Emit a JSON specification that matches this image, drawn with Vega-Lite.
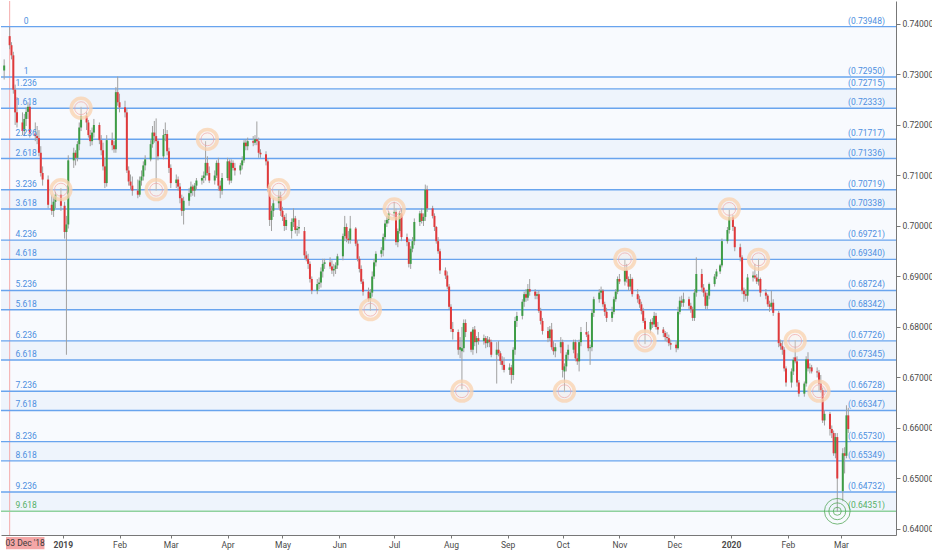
{
  "$schema": "https://vega.github.io/schema/vega-lite/v6.json",
  "width": 895,
  "height": 534,
  "padding": 0,
  "background": "white",
  "config": {
    "view": {"stroke": null},
    "font": "Roboto",
    "axis": {"labelFont": "Roboto", "labelFontSize": 8.5, "labelColor": "#4a4a4a", "domainColor": "#777777", "tickColor": "#777777", "grid": false, "title": null}
  },
  "datasets": {
    "levels": [
      {"lvl": "0", "p": 0.73948}, {"lvl": "1", "p": 0.7295}, {"lvl": "1.236", "p": 0.72715}, {"lvl": "1.618", "p": 0.72333},
      {"lvl": "2.236", "p": 0.71717}, {"lvl": "2.618", "p": 0.71336}, {"lvl": "3.236", "p": 0.70719}, {"lvl": "3.618", "p": 0.70338},
      {"lvl": "4.236", "p": 0.69721}, {"lvl": "4.618", "p": 0.6934}, {"lvl": "5.236", "p": 0.68724}, {"lvl": "5.618", "p": 0.68342},
      {"lvl": "6.236", "p": 0.67726}, {"lvl": "6.618", "p": 0.67345}, {"lvl": "7.236", "p": 0.66728}, {"lvl": "7.618", "p": 0.66347},
      {"lvl": "8.236", "p": 0.6573}, {"lvl": "8.618", "p": 0.65349}, {"lvl": "9.236", "p": 0.64732}, {"lvl": "9.618", "p": 0.64351}
    ],
    "bands": [
      {"y1": 0.73948, "y2": 0.7295, "k": "a"}, {"y1": 0.7295, "y2": 0.72715, "k": "a"}, {"y1": 0.72715, "y2": 0.72333, "k": "t"},
      {"y1": 0.72333, "y2": 0.71717, "k": "a"}, {"y1": 0.71717, "y2": 0.71336, "k": "t"}, {"y1": 0.71336, "y2": 0.70719, "k": "a"},
      {"y1": 0.70719, "y2": 0.70338, "k": "t"}, {"y1": 0.70338, "y2": 0.69721, "k": "a"}, {"y1": 0.69721, "y2": 0.6934, "k": "t"},
      {"y1": 0.6934, "y2": 0.68724, "k": "a"}, {"y1": 0.68724, "y2": 0.68342, "k": "t"}, {"y1": 0.68342, "y2": 0.67726, "k": "a"},
      {"y1": 0.67726, "y2": 0.67345, "k": "t"}, {"y1": 0.67345, "y2": 0.66728, "k": "a"}, {"y1": 0.66728, "y2": 0.66347, "k": "t"},
      {"y1": 0.66347, "y2": 0.6573, "k": "a"}, {"y1": 0.6573, "y2": 0.65349, "k": "t"}, {"y1": 0.65349, "y2": 0.64732, "k": "a"},
      {"y1": 0.64732, "y2": 0.64351, "k": "t"}, {"y1": 0.64351, "y2": 0.6388, "k": "a"}
    ],
    "rings": [
      {"d": "2019-01-11", "p": 0.72333}, {"d": "2018-12-31", "p": 0.70719}, {"d": "2019-02-21", "p": 0.70719},
      {"d": "2019-03-21", "p": 0.71717}, {"d": "2019-04-29", "p": 0.70719}, {"d": "2019-06-18", "p": 0.68342},
      {"d": "2019-07-01", "p": 0.70338}, {"d": "2019-08-07", "p": 0.66728}, {"d": "2019-10-02", "p": 0.66728},
      {"d": "2019-11-04", "p": 0.6934}, {"d": "2019-11-15", "p": 0.67726}, {"d": "2019-12-31", "p": 0.70338},
      {"d": "2020-01-16", "p": 0.6934}, {"d": "2020-02-05", "p": 0.67726}, {"d": "2020-02-18", "p": 0.66728}
    ],
    "target": [{"d": "2020-02-28", "p": 0.64351}],
    "candles": [
      {"d": "2018-11-30", "o": 0.7308, "h": 0.733, "l": 0.729, "c": 0.7318},
      {"d": "2018-12-03", "o": 0.7376, "h": 0.7394, "l": 0.735, "c": 0.7358},
      {"d": "2018-12-04", "o": 0.7358, "h": 0.7364, "l": 0.733, "c": 0.7338},
      {"d": "2018-12-05", "o": 0.7338, "h": 0.7345, "l": 0.7262, "c": 0.727},
      {"d": "2018-12-06", "o": 0.727, "h": 0.728, "l": 0.72, "c": 0.7225},
      {"d": "2018-12-07", "o": 0.7225, "h": 0.7255, "l": 0.7195, "c": 0.7205},
      {"d": "2018-12-10", "o": 0.7205, "h": 0.7225, "l": 0.718, "c": 0.7188},
      {"d": "2018-12-11", "o": 0.7188, "h": 0.7222, "l": 0.7178, "c": 0.7212},
      {"d": "2018-12-12", "o": 0.7212, "h": 0.7235, "l": 0.7198, "c": 0.7226},
      {"d": "2018-12-13", "o": 0.7226, "h": 0.7245, "l": 0.7212, "c": 0.7236},
      {"d": "2018-12-14", "o": 0.7236, "h": 0.7242, "l": 0.7175, "c": 0.7183},
      {"d": "2018-12-17", "o": 0.7183, "h": 0.7205, "l": 0.7168, "c": 0.7178},
      {"d": "2018-12-18", "o": 0.7178, "h": 0.7198, "l": 0.7162, "c": 0.7174},
      {"d": "2018-12-19", "o": 0.7174, "h": 0.719, "l": 0.7138, "c": 0.7145},
      {"d": "2018-12-20", "o": 0.7145, "h": 0.7158, "l": 0.7098, "c": 0.7105},
      {"d": "2018-12-21", "o": 0.7105, "h": 0.7118, "l": 0.708, "c": 0.7092},
      {"d": "2018-12-24", "o": 0.7092, "h": 0.71, "l": 0.7035, "c": 0.7042},
      {"d": "2018-12-26", "o": 0.7042, "h": 0.7062, "l": 0.7022, "c": 0.703},
      {"d": "2018-12-27", "o": 0.703, "h": 0.7058, "l": 0.7018, "c": 0.7048},
      {"d": "2018-12-28", "o": 0.7048, "h": 0.7068, "l": 0.7035, "c": 0.7062},
      {"d": "2018-12-31", "o": 0.7062, "h": 0.7075, "l": 0.703, "c": 0.704},
      {"d": "2019-01-02", "o": 0.704, "h": 0.7048, "l": 0.6975, "c": 0.6988},
      {"d": "2019-01-03", "o": 0.6988, "h": 0.702, "l": 0.6745, "c": 0.7003},
      {"d": "2019-01-04", "o": 0.7003, "h": 0.714, "l": 0.6995, "c": 0.713},
      {"d": "2019-01-07", "o": 0.713, "h": 0.7155, "l": 0.7115, "c": 0.7145},
      {"d": "2019-01-08", "o": 0.7145, "h": 0.715, "l": 0.712, "c": 0.7135},
      {"d": "2019-01-09", "o": 0.7135, "h": 0.7168, "l": 0.7128, "c": 0.7162},
      {"d": "2019-01-10", "o": 0.7162, "h": 0.7205, "l": 0.715, "c": 0.7195},
      {"d": "2019-01-11", "o": 0.7195, "h": 0.7236, "l": 0.7188, "c": 0.7218},
      {"d": "2019-01-14", "o": 0.7218, "h": 0.7225, "l": 0.719, "c": 0.7205},
      {"d": "2019-01-15", "o": 0.7205, "h": 0.721, "l": 0.7175, "c": 0.718},
      {"d": "2019-01-16", "o": 0.718, "h": 0.719, "l": 0.7158, "c": 0.7168},
      {"d": "2019-01-17", "o": 0.7168, "h": 0.7195, "l": 0.716, "c": 0.7185},
      {"d": "2019-01-18", "o": 0.7185, "h": 0.7212, "l": 0.7175, "c": 0.72},
      {"d": "2019-01-21", "o": 0.72, "h": 0.7205, "l": 0.7162, "c": 0.717},
      {"d": "2019-01-22", "o": 0.717, "h": 0.718, "l": 0.714, "c": 0.715},
      {"d": "2019-01-23", "o": 0.715, "h": 0.7165, "l": 0.711, "c": 0.7118},
      {"d": "2019-01-24", "o": 0.7118, "h": 0.7135, "l": 0.7075, "c": 0.7085},
      {"d": "2019-01-25", "o": 0.7085, "h": 0.718, "l": 0.7078, "c": 0.717},
      {"d": "2019-01-28", "o": 0.717, "h": 0.7185, "l": 0.715, "c": 0.716},
      {"d": "2019-01-29", "o": 0.716, "h": 0.7168, "l": 0.7145, "c": 0.7152},
      {"d": "2019-01-30", "o": 0.7152, "h": 0.7275, "l": 0.7145, "c": 0.7265},
      {"d": "2019-01-31", "o": 0.7265, "h": 0.7296, "l": 0.7238, "c": 0.7245},
      {"d": "2019-02-01", "o": 0.7245, "h": 0.7262, "l": 0.7225, "c": 0.7235},
      {"d": "2019-02-04", "o": 0.7235, "h": 0.7248, "l": 0.7215, "c": 0.7225},
      {"d": "2019-02-05", "o": 0.7225, "h": 0.7232, "l": 0.7105, "c": 0.711},
      {"d": "2019-02-06", "o": 0.711, "h": 0.7118, "l": 0.708, "c": 0.7088},
      {"d": "2019-02-07", "o": 0.7088, "h": 0.7102, "l": 0.7072, "c": 0.708},
      {"d": "2019-02-08", "o": 0.708, "h": 0.7098, "l": 0.706, "c": 0.707},
      {"d": "2019-02-11", "o": 0.707, "h": 0.7092, "l": 0.7055, "c": 0.7062},
      {"d": "2019-02-12", "o": 0.7062, "h": 0.7098, "l": 0.7058, "c": 0.709},
      {"d": "2019-02-13", "o": 0.709, "h": 0.711, "l": 0.708, "c": 0.7098},
      {"d": "2019-02-14", "o": 0.7098, "h": 0.7128, "l": 0.709, "c": 0.712},
      {"d": "2019-02-15", "o": 0.712, "h": 0.714, "l": 0.711, "c": 0.7132},
      {"d": "2019-02-18", "o": 0.7132, "h": 0.717, "l": 0.7128, "c": 0.7162},
      {"d": "2019-02-19", "o": 0.7162, "h": 0.7198, "l": 0.7155, "c": 0.7185},
      {"d": "2019-02-20", "o": 0.7185, "h": 0.7208, "l": 0.7165, "c": 0.7178},
      {"d": "2019-02-21", "o": 0.7178, "h": 0.7213, "l": 0.707, "c": 0.7168},
      {"d": "2019-02-22", "o": 0.7168, "h": 0.7172, "l": 0.713, "c": 0.7138},
      {"d": "2019-02-25", "o": 0.7138, "h": 0.7192, "l": 0.7132, "c": 0.718},
      {"d": "2019-02-26", "o": 0.718, "h": 0.7205, "l": 0.7168, "c": 0.7182},
      {"d": "2019-02-27", "o": 0.7182, "h": 0.719, "l": 0.714, "c": 0.7148},
      {"d": "2019-02-28", "o": 0.7148, "h": 0.7155, "l": 0.7105, "c": 0.7115},
      {"d": "2019-03-01", "o": 0.7115, "h": 0.7122, "l": 0.7075, "c": 0.7085},
      {"d": "2019-03-04", "o": 0.7085, "h": 0.7102, "l": 0.7075, "c": 0.7092},
      {"d": "2019-03-05", "o": 0.7092, "h": 0.7098, "l": 0.707, "c": 0.7078},
      {"d": "2019-03-06", "o": 0.7078, "h": 0.7085, "l": 0.7045, "c": 0.7055},
      {"d": "2019-03-07", "o": 0.7055, "h": 0.7062, "l": 0.702, "c": 0.703},
      {"d": "2019-03-08", "o": 0.703, "h": 0.7058, "l": 0.7003, "c": 0.705},
      {"d": "2019-03-11", "o": 0.705, "h": 0.7075, "l": 0.704, "c": 0.7065},
      {"d": "2019-03-12", "o": 0.7065, "h": 0.7088, "l": 0.7058, "c": 0.7078},
      {"d": "2019-03-13", "o": 0.7078, "h": 0.7082, "l": 0.706, "c": 0.707},
      {"d": "2019-03-14", "o": 0.707, "h": 0.7085, "l": 0.7058, "c": 0.708},
      {"d": "2019-03-15", "o": 0.708, "h": 0.7095, "l": 0.7072, "c": 0.709},
      {"d": "2019-03-18", "o": 0.709, "h": 0.71, "l": 0.7082, "c": 0.7095},
      {"d": "2019-03-19", "o": 0.7095, "h": 0.7108, "l": 0.7085, "c": 0.71},
      {"d": "2019-03-20", "o": 0.71, "h": 0.7168, "l": 0.709, "c": 0.7125},
      {"d": "2019-03-21", "o": 0.7125, "h": 0.7138, "l": 0.71, "c": 0.7105},
      {"d": "2019-03-22", "o": 0.7105, "h": 0.7118, "l": 0.7085, "c": 0.709},
      {"d": "2019-03-25", "o": 0.709, "h": 0.711, "l": 0.7082, "c": 0.71},
      {"d": "2019-03-26", "o": 0.71, "h": 0.713, "l": 0.7095, "c": 0.7125},
      {"d": "2019-03-27", "o": 0.7125, "h": 0.7135, "l": 0.707, "c": 0.708},
      {"d": "2019-03-28", "o": 0.708, "h": 0.709, "l": 0.7055, "c": 0.707},
      {"d": "2019-03-29", "o": 0.707, "h": 0.7105, "l": 0.7062, "c": 0.7095},
      {"d": "2019-04-01", "o": 0.7095, "h": 0.7135, "l": 0.709, "c": 0.7128},
      {"d": "2019-04-02", "o": 0.7128, "h": 0.7132, "l": 0.7082, "c": 0.709},
      {"d": "2019-04-03", "o": 0.709, "h": 0.7132, "l": 0.7085, "c": 0.7125},
      {"d": "2019-04-04", "o": 0.7125, "h": 0.713, "l": 0.711, "c": 0.7115},
      {"d": "2019-04-05", "o": 0.7115, "h": 0.7125, "l": 0.71, "c": 0.711},
      {"d": "2019-04-08", "o": 0.711, "h": 0.7125, "l": 0.7102, "c": 0.712},
      {"d": "2019-04-09", "o": 0.712, "h": 0.7138, "l": 0.7112, "c": 0.713},
      {"d": "2019-04-10", "o": 0.713, "h": 0.717, "l": 0.7125, "c": 0.7165},
      {"d": "2019-04-11", "o": 0.7165, "h": 0.7172, "l": 0.715, "c": 0.7158},
      {"d": "2019-04-12", "o": 0.7158, "h": 0.7175, "l": 0.715, "c": 0.7168},
      {"d": "2019-04-15", "o": 0.7168, "h": 0.7178, "l": 0.7158, "c": 0.7165},
      {"d": "2019-04-16", "o": 0.7165, "h": 0.718, "l": 0.716, "c": 0.7172},
      {"d": "2019-04-17", "o": 0.7172, "h": 0.7207, "l": 0.716, "c": 0.7168},
      {"d": "2019-04-18", "o": 0.7168, "h": 0.7175, "l": 0.7135, "c": 0.7145},
      {"d": "2019-04-19", "o": 0.7145, "h": 0.7152, "l": 0.7135, "c": 0.7142},
      {"d": "2019-04-22", "o": 0.7142, "h": 0.7148, "l": 0.712, "c": 0.7128},
      {"d": "2019-04-23", "o": 0.7128, "h": 0.7132, "l": 0.7068, "c": 0.7075},
      {"d": "2019-04-24", "o": 0.7075, "h": 0.708, "l": 0.7, "c": 0.7012},
      {"d": "2019-04-25", "o": 0.7012, "h": 0.704, "l": 0.699, "c": 0.703},
      {"d": "2019-04-26", "o": 0.703, "h": 0.7055, "l": 0.7018, "c": 0.7045},
      {"d": "2019-04-29", "o": 0.7045, "h": 0.7072, "l": 0.7035, "c": 0.7058},
      {"d": "2019-04-30", "o": 0.7058, "h": 0.7068, "l": 0.702, "c": 0.703},
      {"d": "2019-05-01", "o": 0.703, "h": 0.7038, "l": 0.701, "c": 0.7018},
      {"d": "2019-05-02", "o": 0.7018, "h": 0.7022, "l": 0.699, "c": 0.7},
      {"d": "2019-05-03", "o": 0.7, "h": 0.7025, "l": 0.6992, "c": 0.7012},
      {"d": "2019-05-06", "o": 0.699, "h": 0.7015, "l": 0.6975, "c": 0.7008},
      {"d": "2019-05-07", "o": 0.7008, "h": 0.7035, "l": 0.6998, "c": 0.7015},
      {"d": "2019-05-08", "o": 0.7015, "h": 0.702, "l": 0.6985, "c": 0.6992},
      {"d": "2019-05-09", "o": 0.6992, "h": 0.7, "l": 0.698, "c": 0.6995},
      {"d": "2019-05-10", "o": 0.6995, "h": 0.7012, "l": 0.6985, "c": 0.6998},
      {"d": "2019-05-13", "o": 0.699, "h": 0.6998, "l": 0.6935, "c": 0.6942},
      {"d": "2019-05-14", "o": 0.6942, "h": 0.695, "l": 0.693, "c": 0.6935},
      {"d": "2019-05-15", "o": 0.6935, "h": 0.6945, "l": 0.6915, "c": 0.6925},
      {"d": "2019-05-16", "o": 0.6925, "h": 0.693, "l": 0.6888, "c": 0.6895},
      {"d": "2019-05-17", "o": 0.6895, "h": 0.69, "l": 0.6865, "c": 0.6872},
      {"d": "2019-05-20", "o": 0.6872, "h": 0.6895, "l": 0.6865, "c": 0.6885},
      {"d": "2019-05-21", "o": 0.6885, "h": 0.6898, "l": 0.6875, "c": 0.6888},
      {"d": "2019-05-22", "o": 0.6888, "h": 0.6918, "l": 0.6878, "c": 0.691},
      {"d": "2019-05-23", "o": 0.691, "h": 0.6935, "l": 0.6898, "c": 0.6925},
      {"d": "2019-05-24", "o": 0.6925, "h": 0.6935, "l": 0.6915, "c": 0.6928},
      {"d": "2019-05-27", "o": 0.6928, "h": 0.6938, "l": 0.6915, "c": 0.692},
      {"d": "2019-05-28", "o": 0.692, "h": 0.6932, "l": 0.6905, "c": 0.6912},
      {"d": "2019-05-29", "o": 0.6912, "h": 0.6925, "l": 0.69, "c": 0.6915},
      {"d": "2019-05-30", "o": 0.6915, "h": 0.6928, "l": 0.6905, "c": 0.6922},
      {"d": "2019-05-31", "o": 0.6922, "h": 0.6945, "l": 0.6915, "c": 0.694},
      {"d": "2019-06-03", "o": 0.694, "h": 0.6985, "l": 0.6932, "c": 0.698},
      {"d": "2019-06-04", "o": 0.698, "h": 0.702, "l": 0.697, "c": 0.6998},
      {"d": "2019-06-05", "o": 0.6998, "h": 0.7005, "l": 0.6968, "c": 0.6975},
      {"d": "2019-06-06", "o": 0.6975, "h": 0.699, "l": 0.6965, "c": 0.6972},
      {"d": "2019-06-07", "o": 0.6972, "h": 0.702, "l": 0.6965, "c": 0.6995},
      {"d": "2019-06-10", "o": 0.6995, "h": 0.6998, "l": 0.696, "c": 0.6965},
      {"d": "2019-06-11", "o": 0.6965, "h": 0.6972, "l": 0.693, "c": 0.6935},
      {"d": "2019-06-12", "o": 0.6935, "h": 0.694, "l": 0.6908, "c": 0.6915},
      {"d": "2019-06-13", "o": 0.6915, "h": 0.6922, "l": 0.6885, "c": 0.689},
      {"d": "2019-06-14", "o": 0.689, "h": 0.6895, "l": 0.6862, "c": 0.687},
      {"d": "2019-06-17", "o": 0.687, "h": 0.6878, "l": 0.685, "c": 0.6855},
      {"d": "2019-06-18", "o": 0.6855, "h": 0.6875, "l": 0.6832, "c": 0.6868},
      {"d": "2019-06-19", "o": 0.6868, "h": 0.691, "l": 0.686, "c": 0.69},
      {"d": "2019-06-20", "o": 0.69, "h": 0.6935, "l": 0.6895, "c": 0.6928},
      {"d": "2019-06-21", "o": 0.6928, "h": 0.695, "l": 0.692, "c": 0.6945},
      {"d": "2019-06-24", "o": 0.6945, "h": 0.6958, "l": 0.6938, "c": 0.6952},
      {"d": "2019-06-25", "o": 0.6952, "h": 0.6985, "l": 0.694, "c": 0.6978},
      {"d": "2019-06-26", "o": 0.6978, "h": 0.7012, "l": 0.6972, "c": 0.7005},
      {"d": "2019-06-27", "o": 0.7005, "h": 0.702, "l": 0.6998, "c": 0.7012},
      {"d": "2019-06-28", "o": 0.7012, "h": 0.703, "l": 0.7005, "c": 0.7025},
      {"d": "2019-07-01", "o": 0.7025, "h": 0.7048, "l": 0.7015, "c": 0.7028},
      {"d": "2019-07-02", "o": 0.7028, "h": 0.7035, "l": 0.6962, "c": 0.6968},
      {"d": "2019-07-03", "o": 0.6968, "h": 0.6995, "l": 0.6958, "c": 0.699},
      {"d": "2019-07-04", "o": 0.699, "h": 0.703, "l": 0.6985, "c": 0.7025},
      {"d": "2019-07-05", "o": 0.7025, "h": 0.7035, "l": 0.697, "c": 0.6978},
      {"d": "2019-07-08", "o": 0.6978, "h": 0.6985, "l": 0.696, "c": 0.6968},
      {"d": "2019-07-09", "o": 0.6968, "h": 0.6975, "l": 0.6918, "c": 0.6925},
      {"d": "2019-07-10", "o": 0.6925, "h": 0.696, "l": 0.6915, "c": 0.6955},
      {"d": "2019-07-11", "o": 0.6955, "h": 0.6978, "l": 0.6948, "c": 0.697},
      {"d": "2019-07-12", "o": 0.697, "h": 0.7015, "l": 0.6962, "c": 0.7008},
      {"d": "2019-07-15", "o": 0.7008, "h": 0.703, "l": 0.7, "c": 0.7025},
      {"d": "2019-07-16", "o": 0.7025, "h": 0.7035, "l": 0.7005, "c": 0.701},
      {"d": "2019-07-17", "o": 0.701, "h": 0.7025, "l": 0.7, "c": 0.7018},
      {"d": "2019-07-18", "o": 0.7018, "h": 0.7082, "l": 0.701, "c": 0.7072},
      {"d": "2019-07-19", "o": 0.7072, "h": 0.708, "l": 0.7028, "c": 0.7035},
      {"d": "2019-07-22", "o": 0.7035, "h": 0.704, "l": 0.7015, "c": 0.702},
      {"d": "2019-07-23", "o": 0.702, "h": 0.7025, "l": 0.699, "c": 0.6998},
      {"d": "2019-07-24", "o": 0.6998, "h": 0.7, "l": 0.6965, "c": 0.697},
      {"d": "2019-07-25", "o": 0.697, "h": 0.6978, "l": 0.6945, "c": 0.695},
      {"d": "2019-07-26", "o": 0.695, "h": 0.6955, "l": 0.6905, "c": 0.6912},
      {"d": "2019-07-29", "o": 0.6912, "h": 0.6918, "l": 0.6895, "c": 0.6902},
      {"d": "2019-07-30", "o": 0.6902, "h": 0.691, "l": 0.6875, "c": 0.688},
      {"d": "2019-07-31", "o": 0.688, "h": 0.6885, "l": 0.6835, "c": 0.684},
      {"d": "2019-08-01", "o": 0.684, "h": 0.6845, "l": 0.679, "c": 0.6796},
      {"d": "2019-08-02", "o": 0.6796, "h": 0.681, "l": 0.6775, "c": 0.679},
      {"d": "2019-08-05", "o": 0.679, "h": 0.6795, "l": 0.6745, "c": 0.6755},
      {"d": "2019-08-06", "o": 0.6755, "h": 0.678, "l": 0.6738, "c": 0.676},
      {"d": "2019-08-07", "o": 0.6752, "h": 0.68, "l": 0.6677, "c": 0.6758},
      {"d": "2019-08-08", "o": 0.6758, "h": 0.6815, "l": 0.675, "c": 0.6808},
      {"d": "2019-08-09", "o": 0.6808, "h": 0.6815, "l": 0.678, "c": 0.679},
      {"d": "2019-08-12", "o": 0.679, "h": 0.6792, "l": 0.675, "c": 0.6755},
      {"d": "2019-08-13", "o": 0.6755, "h": 0.68, "l": 0.6745, "c": 0.6795},
      {"d": "2019-08-14", "o": 0.6795, "h": 0.6802, "l": 0.6762, "c": 0.677},
      {"d": "2019-08-15", "o": 0.677, "h": 0.6782, "l": 0.6748, "c": 0.6778},
      {"d": "2019-08-16", "o": 0.6778, "h": 0.679, "l": 0.6765, "c": 0.6772},
      {"d": "2019-08-19", "o": 0.6772, "h": 0.6785, "l": 0.6765, "c": 0.6778},
      {"d": "2019-08-20", "o": 0.6778, "h": 0.6782, "l": 0.6758, "c": 0.6768},
      {"d": "2019-08-21", "o": 0.6768, "h": 0.6782, "l": 0.676, "c": 0.6775},
      {"d": "2019-08-22", "o": 0.6775, "h": 0.678, "l": 0.676, "c": 0.677},
      {"d": "2019-08-23", "o": 0.677, "h": 0.6775, "l": 0.674, "c": 0.6745},
      {"d": "2019-08-26", "o": 0.6745, "h": 0.677, "l": 0.6688, "c": 0.6755},
      {"d": "2019-08-27", "o": 0.6755, "h": 0.6772, "l": 0.6742, "c": 0.6748},
      {"d": "2019-08-28", "o": 0.6748, "h": 0.6752, "l": 0.6725, "c": 0.6733},
      {"d": "2019-08-29", "o": 0.6733, "h": 0.6742, "l": 0.6715, "c": 0.6725},
      {"d": "2019-08-30", "o": 0.6725, "h": 0.674, "l": 0.671, "c": 0.6715},
      {"d": "2019-09-02", "o": 0.6715, "h": 0.6728, "l": 0.6705, "c": 0.672},
      {"d": "2019-09-03", "o": 0.672, "h": 0.6725, "l": 0.6688, "c": 0.6705},
      {"d": "2019-09-04", "o": 0.6705, "h": 0.676, "l": 0.6695, "c": 0.6755},
      {"d": "2019-09-05", "o": 0.6755, "h": 0.682, "l": 0.6745, "c": 0.6812},
      {"d": "2019-09-06", "o": 0.6812, "h": 0.683, "l": 0.68, "c": 0.6822},
      {"d": "2019-09-09", "o": 0.6822, "h": 0.6855, "l": 0.6815, "c": 0.685},
      {"d": "2019-09-10", "o": 0.685, "h": 0.687, "l": 0.684, "c": 0.6865},
      {"d": "2019-09-11", "o": 0.6865, "h": 0.6875, "l": 0.685, "c": 0.6858},
      {"d": "2019-09-12", "o": 0.6858, "h": 0.6885, "l": 0.6852, "c": 0.6875},
      {"d": "2019-09-13", "o": 0.6875, "h": 0.6895, "l": 0.6862, "c": 0.687},
      {"d": "2019-09-16", "o": 0.687, "h": 0.6875, "l": 0.6855, "c": 0.6862},
      {"d": "2019-09-17", "o": 0.6862, "h": 0.687, "l": 0.6855, "c": 0.6865},
      {"d": "2019-09-18", "o": 0.6865, "h": 0.6872, "l": 0.6828, "c": 0.6832},
      {"d": "2019-09-19", "o": 0.6832, "h": 0.6838, "l": 0.6805, "c": 0.6812},
      {"d": "2019-09-20", "o": 0.6812, "h": 0.6818, "l": 0.6785, "c": 0.6792},
      {"d": "2019-09-23", "o": 0.6792, "h": 0.68, "l": 0.677, "c": 0.6778},
      {"d": "2019-09-24", "o": 0.6778, "h": 0.6802, "l": 0.6772, "c": 0.6795},
      {"d": "2019-09-25", "o": 0.6795, "h": 0.6808, "l": 0.6755, "c": 0.676},
      {"d": "2019-09-26", "o": 0.676, "h": 0.6772, "l": 0.6745, "c": 0.6752},
      {"d": "2019-09-27", "o": 0.6752, "h": 0.6768, "l": 0.674, "c": 0.676},
      {"d": "2019-09-30", "o": 0.676, "h": 0.678, "l": 0.6748, "c": 0.677},
      {"d": "2019-10-01", "o": 0.677, "h": 0.6775, "l": 0.67, "c": 0.6715},
      {"d": "2019-10-02", "o": 0.6712, "h": 0.6728, "l": 0.6671, "c": 0.6722},
      {"d": "2019-10-03", "o": 0.6722, "h": 0.675, "l": 0.6712, "c": 0.6745},
      {"d": "2019-10-04", "o": 0.6745, "h": 0.6765, "l": 0.6735, "c": 0.6755},
      {"d": "2019-10-07", "o": 0.6755, "h": 0.6775, "l": 0.6748, "c": 0.677},
      {"d": "2019-10-08", "o": 0.677, "h": 0.6775, "l": 0.6732, "c": 0.6738},
      {"d": "2019-10-09", "o": 0.6738, "h": 0.6748, "l": 0.6725, "c": 0.6732},
      {"d": "2019-10-10", "o": 0.6732, "h": 0.6775, "l": 0.6712, "c": 0.677},
      {"d": "2019-10-11", "o": 0.677, "h": 0.68, "l": 0.6762, "c": 0.679},
      {"d": "2019-10-14", "o": 0.679, "h": 0.681, "l": 0.678, "c": 0.6785},
      {"d": "2019-10-15", "o": 0.6785, "h": 0.6792, "l": 0.6752, "c": 0.6758},
      {"d": "2019-10-16", "o": 0.6758, "h": 0.6765, "l": 0.6725, "c": 0.676},
      {"d": "2019-10-17", "o": 0.676, "h": 0.6835, "l": 0.6752, "c": 0.6828},
      {"d": "2019-10-18", "o": 0.6828, "h": 0.686, "l": 0.682, "c": 0.6855},
      {"d": "2019-10-21", "o": 0.6855, "h": 0.6875, "l": 0.6848, "c": 0.6868},
      {"d": "2019-10-22", "o": 0.6868, "h": 0.688, "l": 0.6855, "c": 0.6872},
      {"d": "2019-10-23", "o": 0.6872, "h": 0.6875, "l": 0.684, "c": 0.6845},
      {"d": "2019-10-24", "o": 0.6845, "h": 0.685, "l": 0.6822, "c": 0.683},
      {"d": "2019-10-25", "o": 0.683, "h": 0.6838, "l": 0.681, "c": 0.6818},
      {"d": "2019-10-28", "o": 0.6818, "h": 0.684, "l": 0.681, "c": 0.683},
      {"d": "2019-10-29", "o": 0.683, "h": 0.686, "l": 0.6825, "c": 0.6855},
      {"d": "2019-10-30", "o": 0.6855, "h": 0.6875, "l": 0.685, "c": 0.687},
      {"d": "2019-10-31", "o": 0.687, "h": 0.69, "l": 0.6865, "c": 0.6895},
      {"d": "2019-11-01", "o": 0.6895, "h": 0.6905, "l": 0.6885, "c": 0.689},
      {"d": "2019-11-04", "o": 0.689, "h": 0.6933, "l": 0.6882, "c": 0.6912},
      {"d": "2019-11-05", "o": 0.6912, "h": 0.6925, "l": 0.6888, "c": 0.6895},
      {"d": "2019-11-06", "o": 0.6895, "h": 0.69, "l": 0.6872, "c": 0.688},
      {"d": "2019-11-07", "o": 0.688, "h": 0.6905, "l": 0.6872, "c": 0.6895},
      {"d": "2019-11-08", "o": 0.6895, "h": 0.6898, "l": 0.686, "c": 0.6865},
      {"d": "2019-11-11", "o": 0.6865, "h": 0.6875, "l": 0.6848, "c": 0.6855},
      {"d": "2019-11-12", "o": 0.6855, "h": 0.6862, "l": 0.6838, "c": 0.6845},
      {"d": "2019-11-13", "o": 0.6845, "h": 0.685, "l": 0.6825, "c": 0.6832},
      {"d": "2019-11-14", "o": 0.6832, "h": 0.6838, "l": 0.6808, "c": 0.6812},
      {"d": "2019-11-15", "o": 0.6812, "h": 0.6818, "l": 0.6766, "c": 0.6795},
      {"d": "2019-11-18", "o": 0.6795, "h": 0.6815, "l": 0.6788, "c": 0.681},
      {"d": "2019-11-19", "o": 0.681, "h": 0.6818, "l": 0.6798, "c": 0.6805},
      {"d": "2019-11-20", "o": 0.6805, "h": 0.683, "l": 0.68, "c": 0.6822},
      {"d": "2019-11-21", "o": 0.6822, "h": 0.6828, "l": 0.6795, "c": 0.68},
      {"d": "2019-11-22", "o": 0.68, "h": 0.681, "l": 0.6785, "c": 0.6795},
      {"d": "2019-11-25", "o": 0.6795, "h": 0.68, "l": 0.678, "c": 0.6788},
      {"d": "2019-11-26", "o": 0.6788, "h": 0.6792, "l": 0.6772, "c": 0.678},
      {"d": "2019-11-27", "o": 0.678, "h": 0.679, "l": 0.677, "c": 0.6778},
      {"d": "2019-11-28", "o": 0.6778, "h": 0.6785, "l": 0.6762, "c": 0.6768},
      {"d": "2019-11-29", "o": 0.6768, "h": 0.6775, "l": 0.6755, "c": 0.6765},
      {"d": "2019-12-02", "o": 0.6765, "h": 0.6772, "l": 0.675, "c": 0.6758},
      {"d": "2019-12-03", "o": 0.6758, "h": 0.684, "l": 0.6755, "c": 0.683},
      {"d": "2019-12-04", "o": 0.683, "h": 0.686, "l": 0.6825, "c": 0.6852},
      {"d": "2019-12-05", "o": 0.6852, "h": 0.6862, "l": 0.684, "c": 0.6848},
      {"d": "2019-12-06", "o": 0.6848, "h": 0.6868, "l": 0.684, "c": 0.6855},
      {"d": "2019-12-09", "o": 0.6855, "h": 0.686, "l": 0.6835, "c": 0.6842},
      {"d": "2019-12-10", "o": 0.6842, "h": 0.6848, "l": 0.6828, "c": 0.6835},
      {"d": "2019-12-11", "o": 0.6835, "h": 0.684, "l": 0.6812, "c": 0.6818},
      {"d": "2019-12-12", "o": 0.6818, "h": 0.6875, "l": 0.6812, "c": 0.6868},
      {"d": "2019-12-13", "o": 0.6868, "h": 0.6938, "l": 0.686, "c": 0.6905},
      {"d": "2019-12-16", "o": 0.6905, "h": 0.6915, "l": 0.687, "c": 0.6878},
      {"d": "2019-12-17", "o": 0.6878, "h": 0.6885, "l": 0.686, "c": 0.6868},
      {"d": "2019-12-18", "o": 0.6868, "h": 0.6872, "l": 0.6835, "c": 0.6842},
      {"d": "2019-12-19", "o": 0.6842, "h": 0.6868, "l": 0.6835, "c": 0.6862},
      {"d": "2019-12-20", "o": 0.6862, "h": 0.6888, "l": 0.6855, "c": 0.6885},
      {"d": "2019-12-23", "o": 0.6885, "h": 0.6905, "l": 0.688, "c": 0.69},
      {"d": "2019-12-24", "o": 0.69, "h": 0.6915, "l": 0.6895, "c": 0.691},
      {"d": "2019-12-26", "o": 0.691, "h": 0.6925, "l": 0.6905, "c": 0.6922},
      {"d": "2019-12-27", "o": 0.6922, "h": 0.6975, "l": 0.6918, "c": 0.697},
      {"d": "2019-12-30", "o": 0.697, "h": 0.6998, "l": 0.6965, "c": 0.6992},
      {"d": "2019-12-31", "o": 0.6992, "h": 0.7032, "l": 0.6985, "c": 0.7018},
      {"d": "2020-01-02", "o": 0.7018, "h": 0.7022, "l": 0.699, "c": 0.6998},
      {"d": "2020-01-03", "o": 0.6998, "h": 0.7, "l": 0.695, "c": 0.6958},
      {"d": "2020-01-06", "o": 0.6958, "h": 0.6965, "l": 0.693, "c": 0.6938},
      {"d": "2020-01-07", "o": 0.6938, "h": 0.6942, "l": 0.6865, "c": 0.6872},
      {"d": "2020-01-08", "o": 0.6872, "h": 0.6878, "l": 0.685, "c": 0.6865},
      {"d": "2020-01-09", "o": 0.6865, "h": 0.6875, "l": 0.6855, "c": 0.6862},
      {"d": "2020-01-10", "o": 0.6862, "h": 0.6905, "l": 0.685, "c": 0.6898},
      {"d": "2020-01-13", "o": 0.6898, "h": 0.691, "l": 0.689, "c": 0.6902},
      {"d": "2020-01-14", "o": 0.6902, "h": 0.6925, "l": 0.6895, "c": 0.6898},
      {"d": "2020-01-15", "o": 0.6898, "h": 0.6905, "l": 0.6885, "c": 0.689},
      {"d": "2020-01-16", "o": 0.689, "h": 0.6935, "l": 0.6882, "c": 0.6895},
      {"d": "2020-01-17", "o": 0.6895, "h": 0.6898, "l": 0.686, "c": 0.6868},
      {"d": "2020-01-20", "o": 0.6868, "h": 0.6875, "l": 0.6855, "c": 0.6862},
      {"d": "2020-01-21", "o": 0.6862, "h": 0.6865, "l": 0.684, "c": 0.6845},
      {"d": "2020-01-22", "o": 0.6845, "h": 0.6852, "l": 0.683, "c": 0.684},
      {"d": "2020-01-23", "o": 0.684, "h": 0.6872, "l": 0.6835, "c": 0.6848},
      {"d": "2020-01-24", "o": 0.6848, "h": 0.6855, "l": 0.6822, "c": 0.6828},
      {"d": "2020-01-27", "o": 0.6828, "h": 0.6832, "l": 0.676, "c": 0.6768},
      {"d": "2020-01-28", "o": 0.6768, "h": 0.6775, "l": 0.6755, "c": 0.6762},
      {"d": "2020-01-29", "o": 0.6762, "h": 0.6772, "l": 0.6745, "c": 0.6755},
      {"d": "2020-01-30", "o": 0.6755, "h": 0.676, "l": 0.6712, "c": 0.6718},
      {"d": "2020-01-31", "o": 0.6718, "h": 0.6722, "l": 0.6682, "c": 0.669},
      {"d": "2020-02-03", "o": 0.669, "h": 0.6718, "l": 0.668, "c": 0.6712},
      {"d": "2020-02-04", "o": 0.6712, "h": 0.674, "l": 0.6705, "c": 0.6735},
      {"d": "2020-02-05", "o": 0.674, "h": 0.6774, "l": 0.6728, "c": 0.6732},
      {"d": "2020-02-06", "o": 0.6732, "h": 0.6742, "l": 0.6682, "c": 0.669},
      {"d": "2020-02-07", "o": 0.669, "h": 0.6695, "l": 0.6662, "c": 0.6668},
      {"d": "2020-02-10", "o": 0.6668, "h": 0.6692, "l": 0.6662, "c": 0.6688},
      {"d": "2020-02-11", "o": 0.6688, "h": 0.6742, "l": 0.6682, "c": 0.6736},
      {"d": "2020-02-12", "o": 0.6736, "h": 0.675, "l": 0.6712, "c": 0.6718},
      {"d": "2020-02-13", "o": 0.6718, "h": 0.6728, "l": 0.6708, "c": 0.672},
      {"d": "2020-02-14", "o": 0.672, "h": 0.6725, "l": 0.6708, "c": 0.6712},
      {"d": "2020-02-17", "o": 0.6712, "h": 0.672, "l": 0.67, "c": 0.671},
      {"d": "2020-02-18", "o": 0.671, "h": 0.6715, "l": 0.6672, "c": 0.6688},
      {"d": "2020-02-19", "o": 0.6688, "h": 0.6705, "l": 0.667, "c": 0.6675},
      {"d": "2020-02-20", "o": 0.6675, "h": 0.668, "l": 0.661, "c": 0.6615},
      {"d": "2020-02-21", "o": 0.6615, "h": 0.6635, "l": 0.6605, "c": 0.6628},
      {"d": "2020-02-24", "o": 0.6628, "h": 0.6632, "l": 0.6585, "c": 0.6598},
      {"d": "2020-02-25", "o": 0.6598, "h": 0.6605, "l": 0.658, "c": 0.659},
      {"d": "2020-02-26", "o": 0.659, "h": 0.6595, "l": 0.6545, "c": 0.655},
      {"d": "2020-02-27", "o": 0.655, "h": 0.659, "l": 0.654, "c": 0.6582},
      {"d": "2020-02-28", "o": 0.6582, "h": 0.659, "l": 0.6434, "c": 0.65},
      {"d": "2020-03-02", "o": 0.6475, "h": 0.656, "l": 0.6455, "c": 0.655},
      {"d": "2020-03-03", "o": 0.655, "h": 0.6562, "l": 0.651, "c": 0.6545},
      {"d": "2020-03-04", "o": 0.6545, "h": 0.6645, "l": 0.654, "c": 0.6625},
      {"d": "2020-03-05", "o": 0.6625, "h": 0.664, "l": 0.659, "c": 0.6598}
    ]
  },
  "layer": [
    {
      "data": {"name": "bands"},
      "mark": {"type": "rect"},
      "encoding": {
        "y": {
          "field": "y1", "type": "quantitative",
          "scale": {"domain": [0.638811, 0.744554], "nice": false, "zero": false},
          "axis": {
            "orient": "right",
            "values": [0.64, 0.645, 0.65, 0.655, 0.66, 0.665, 0.67, 0.675, 0.68, 0.685, 0.69, 0.695, 0.7, 0.705, 0.71, 0.715, 0.72, 0.725, 0.73, 0.735, 0.74],
            "format": ".5f", "tickSize": 4, "labelPadding": 2, "title": null
          }
        },
        "y2": {"field": "y2"},
        "color": {"field": "k", "type": "nominal", "scale": {"domain": ["a", "t"], "range": ["#f8fafe", "#eef4fc"]}, "legend": null}
      }
    },
    {
      "data": {"values": [{}]},
      "mark": {"type": "rule", "color": "#f5abab", "strokeWidth": 1},
      "encoding": {
        "x": {
          "datum": {"year": 2018, "month": 12, "date": 3, "utc": true}, "type": "temporal",
          "scale": {"type": "utc", "domain": [1543622400000, 1585382400000]},
          "axis": {
            "orient": "bottom",
            "values": [
              {"year": 2019, "month": 1, "date": 1, "utc": true}, {"year": 2019, "month": 2, "date": 1, "utc": true},
              {"year": 2019, "month": 3, "date": 1, "utc": true}, {"year": 2019, "month": 4, "date": 1, "utc": true},
              {"year": 2019, "month": 5, "date": 1, "utc": true}, {"year": 2019, "month": 6, "date": 1, "utc": true},
              {"year": 2019, "month": 7, "date": 1, "utc": true}, {"year": 2019, "month": 8, "date": 1, "utc": true},
              {"year": 2019, "month": 9, "date": 1, "utc": true}, {"year": 2019, "month": 10, "date": 1, "utc": true},
              {"year": 2019, "month": 11, "date": 1, "utc": true}, {"year": 2019, "month": 12, "date": 1, "utc": true},
              {"year": 2020, "month": 1, "date": 1, "utc": true}, {"year": 2020, "month": 2, "date": 1, "utc": true},
              {"year": 2020, "month": 3, "date": 1, "utc": true}
            ],
            "labelExpr": "utcFormat(datum.value, '%m') === '01' ? utcFormat(datum.value, '%Y') : utcFormat(datum.value, '%b')",
            "labelFontWeight": {"condition": {"test": "utcFormat(datum.value, '%m') === '01'", "value": "bold"}, "value": "normal"},
            "labelOverlap": false, "tickSize": 3, "labelPadding": 2, "title": null
          }
        }
      }
    },
    {
      "data": {"name": "levels"},
      "mark": {"type": "rule", "strokeWidth": 1.4},
      "encoding": {
        "y": {"field": "p", "type": "quantitative"},
        "color": {"condition": {"test": "datum.lvl === '9.618'", "value": "#8fd19e"}, "value": "#68a4ee"}
      }
    },
    {
      "data": {"name": "candles"},
      "mark": {"type": "rule", "color": "#a0a0a0", "strokeWidth": 1, "clip": true},
      "encoding": {
        "x": {"field": "d", "type": "temporal"},
        "y": {"field": "l", "type": "quantitative"},
        "y2": {"field": "h"}
      }
    },
    {
      "data": {"name": "candles"},
      "mark": {"type": "bar", "width": 2, "clip": true},
      "encoding": {
        "x": {"field": "d", "type": "temporal"},
        "y": {"field": "o", "type": "quantitative"},
        "y2": {"field": "c"},
        "color": {"condition": {"test": "datum.c >= datum.o", "value": "#3d9c45"}, "value": "#e0393b"}
      }
    },
    {
      "data": {"name": "levels"},
      "mark": {"type": "text", "align": "center", "baseline": "bottom", "dy": -1, "fontSize": 8.5},
      "encoding": {
        "x": {"datum": {"year": 2018, "month": 12, "date": 12, "utc": true}, "type": "temporal"},
        "y": {"field": "p", "type": "quantitative"},
        "text": {"field": "lvl"},
        "color": {"condition": {"test": "datum.lvl === '9.618'", "value": "#55b067"}, "value": "#4d8fe0"}
      }
    },
    {
      "data": {"name": "levels"},
      "transform": [{"calculate": "'(' + format(datum.p, '.5f') + ')'", "as": "lab"}],
      "mark": {"type": "text", "align": "right", "baseline": "bottom", "dy": -1, "fontSize": 8.5},
      "encoding": {
        "x": {"datum": {"year": 2020, "month": 3, "date": 25, "utc": true}, "type": "temporal"},
        "y": {"field": "p", "type": "quantitative"},
        "text": {"field": "lab"},
        "color": {"condition": {"test": "datum.lvl === '9.618'", "value": "#55b067"}, "value": "#4d8fe0"}
      }
    },
    {
      "data": {"name": "rings"},
      "mark": {"type": "point", "shape": "circle", "size": 390, "filled": true, "fill": "#fdeadb", "fillOpacity": 0.3, "stroke": "#f9d2ad", "strokeWidth": 3.5, "strokeOpacity": 0.75},
      "encoding": {
        "x": {"field": "d", "type": "temporal"},
        "y": {"field": "p", "type": "quantitative"}
      }
    },
    {
      "data": {"name": "rings"},
      "mark": {"type": "point", "shape": "circle", "size": 165, "filled": false, "stroke": "#f0a0a0", "strokeWidth": 1, "strokeOpacity": 0.9},
      "encoding": {
        "x": {"field": "d", "type": "temporal"},
        "y": {"field": "p", "type": "quantitative"}
      }
    },
    {
      "data": {"name": "target"},
      "mark": {"type": "point", "shape": "circle", "size": 660, "filled": false, "stroke": "#43a047", "strokeWidth": 1},
      "encoding": {
        "x": {"field": "d", "type": "temporal"},
        "y": {"field": "p", "type": "quantitative"}
      }
    },
    {
      "data": {"name": "target"},
      "mark": {"type": "point", "shape": "circle", "size": 284, "filled": false, "stroke": "#43a047", "strokeWidth": 1},
      "encoding": {
        "x": {"field": "d", "type": "temporal"},
        "y": {"field": "p", "type": "quantitative"}
      }
    },
    {
      "data": {"name": "target"},
      "mark": {"type": "point", "shape": "circle", "size": 64, "filled": false, "stroke": "#43a047", "strokeWidth": 1},
      "encoding": {
        "x": {"field": "d", "type": "temporal"},
        "y": {"field": "p", "type": "quantitative"}
      }
    },
    {
      "data": {"values": [{}]},
      "mark": {"type": "rect", "color": "#f4a6a6"},
      "encoding": {
        "x": {"datum": {"year": 2018, "month": 12, "date": 1, "utc": true}, "type": "temporal"},
        "x2": {"datum": {"year": 2018, "month": 12, "date": 22, "utc": true}},
        "y": {"datum": 0.6384, "type": "quantitative"},
        "y2": {"datum": 0.636}
      }
    },
    {
      "data": {"values": [{}]},
      "mark": {"type": "text", "text": "03 Dec '18", "align": "center", "baseline": "middle", "fontSize": 8.5, "color": "#3a3a3a"},
      "encoding": {
        "x": {"datum": {"year": 2018, "month": 12, "date": 11, "hours": 12, "utc": true}, "type": "temporal"},
        "y": {"datum": 0.6372, "type": "quantitative"}
      }
    }
  ]
}
